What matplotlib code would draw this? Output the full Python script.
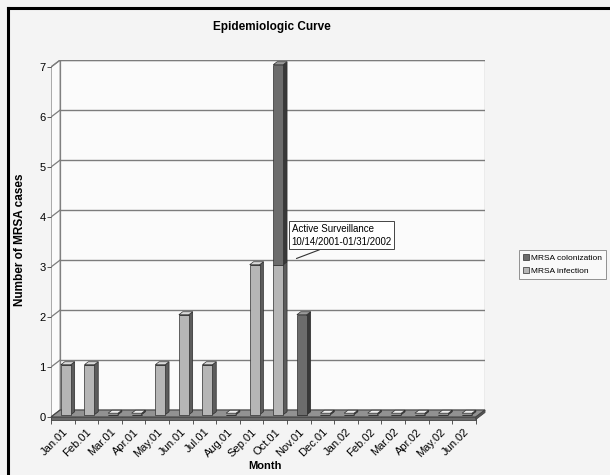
import numpy as np
import matplotlib
matplotlib.use('Agg')
import matplotlib.pyplot as plt
from matplotlib.patches import Polygon, Patch
from matplotlib.lines import Line2D

plt.rcParams['font.family'] = ['Liberation Sans Narrow', 'Liberation Sans', 'DejaVu Sans']

# data
months = ['Jan.01', 'Feb.01', 'Mar.01', 'Apr.01', 'May.01', 'Jun.01', 'Jul.01',
          'Aug.01', 'Sep.01', 'Oct.01', 'Nov.01', 'Dec.01', 'Jan.02', 'Feb.02',
          'Mar.02', 'Apr.02', 'May.02', 'Jun.02']
infection = [1, 1, 0, 0, 1, 2, 1, 0, 3, 3, 0, 0, 0, 0, 0, 0, 0, 0]
colonization = [0, 0, 0, 0, 0, 0, 0, 0, 0, 4, 2, 0, 0, 0, 0, 0, 0, 0]
yticks = [0, 1, 2, 3, 4, 5, 6, 7]

n = len(months)
infection = np.array(infection, dtype=float)
colonization = np.array(colonization, dtype=float)

# fake 3d depth (data units)
DX, DY = 0.39, 0.14
bw = 0.42          # bar front width
fd = 0.33          # depth of bar front face
bd = 0.42          # depth of bar itself
fx, fy = fd * DX, fd * DY
bdx, bdy = bd * DX, bd * DY

INF_C = ('#b6b6b6', '#5c5c5c', '#dadada')
COL_C = ('#6c6c6c', '#383838', '#9a9a9a')
EDGE = '#2e2e2e'
GRID = '#7c7c7c'

fig = plt.figure(figsize=(6.1, 4.75), dpi=100, facecolor='#f4f4f4')
# pixel layout: front origin at (51, 417), 23.6 px per month, 50 px per case
pxx, pxy = 23.6, 50.0
xmax, ymax = n + DX, 7 + DY
ax = fig.add_axes([51 / 610, (475 - 417) / 475, xmax * pxx / 610, ymax * pxy / 475])
ax.set_xlim(0, xmax)
ax.set_ylim(0, ymax)
ax.set_facecolor('none')
for s in ax.spines.values():
    s.set_visible(False)

# walls
ax.add_patch(Polygon([(DX, DY), (n + DX, DY), (n + DX, 7 + DY), (DX, 7 + DY)],
                     closed=True, fc='#fbfbfb', ec=GRID, lw=0.9, zorder=0))
ax.add_patch(Polygon([(0, 0), (DX, DY), (DX, 7 + DY), (0, 7)],
                     closed=True, fc='#fbfbfb', ec=GRID, lw=0.9, zorder=0))
for v in yticks:
    ax.plot([0, DX], [v, v + DY], color=GRID, lw=0.9, zorder=1)
    ax.plot([DX, n + DX], [v + DY, v + DY], color=GRID, lw=1.0, zorder=1)

# floor slab
ax.add_patch(Polygon([(0, 0), (n, 0), (n + DX, DY), (DX, DY)],
                     closed=True, fc='#929292', ec='#444444', lw=0.8, zorder=2, clip_on=False))
ax.add_patch(Polygon([(0, -0.05), (n, -0.05), (n, 0), (0, 0)],
                     closed=True, fc='#6a6a6a', ec='#444444', lw=0.6, zorder=2, clip_on=False))
ax.add_patch(Polygon([(n, -0.05), (n + DX, DY - 0.05), (n + DX, DY), (n, 0)],
                     closed=True, fc='#555555', ec='#444444', lw=0.6, zorder=2, clip_on=False))

xc = np.arange(n) + 0.5
x0 = xc - bw / 2 + fx


def box(xl, b, h, cols, top=True):
    x1 = xl + bw
    ax.add_patch(Polygon([(x1, b), (x1, h), (x1 + bdx, h + bdy), (x1 + bdx, b + bdy)],
                         closed=True, fc=cols[1], ec=EDGE, lw=0.5, zorder=3, clip_on=False))
    if top:
        ax.add_patch(Polygon([(xl, h), (x1, h), (x1 + bdx, h + bdy), (xl + bdx, h + bdy)],
                             closed=True, fc=cols[2], ec=EDGE, lw=0.5, zorder=3, clip_on=False))


# front faces through the bar api
ax.bar(xc + fx, infection, bw, bottom=fy, color=INF_C[0], edgecolor=EDGE, lw=0.5, zorder=4)
ax.bar(xc + fx, colonization, bw, bottom=fy + infection, color=COL_C[0],
       edgecolor=EDGE, lw=0.5, zorder=4)

for i in range(n):
    tot = infection[i] + colonization[i]
    if tot == 0:
        box(x0[i], fy, fy + 0.03, ('#bdbdbd', '#444444', '#eeeeee'))
        continue
    if infection[i] > 0:
        box(x0[i], fy, fy + infection[i], INF_C, top=colonization[i] == 0)
    if colonization[i] > 0:
        box(x0[i], fy + infection[i], fy + tot, COL_C)

# ticks
ax.set_yticks(yticks)
ax.set_yticklabels([str(v) for v in yticks], fontsize=8)
ax.tick_params(axis='y', length=3, width=0.7, color='#555555', pad=1)
ax.set_xticks(xc)
ax.set_xticklabels(months, rotation=45, ha='right', rotation_mode='anchor', fontsize=8)
ax.set_xticks(np.arange(n + 1), minor=True)
ax.tick_params(axis='x', which='major', length=0, pad=7)
ax.tick_params(axis='x', which='minor', length=5, width=0.7, color='#555555')

# annotation callout
ax.annotate('Active Surveillance\n10/14/2001-01/31/2002',
            xy=(10.40, 3.17), xytext=(10.2, 3.40), fontsize=7,
            ha='left', va='bottom', linespacing=1.4,
            bbox=dict(boxstyle='square,pad=0.25', fc='white', ec='#444444', lw=0.7),
            arrowprops=dict(arrowstyle='-', color='#333333', lw=0.8, shrinkA=0, shrinkB=0,
                            relpos=(0.35, 0)),
            zorder=6)

fig.text(272 / 610, 1 - 27 / 475, 'Epidemiologic Curve', ha='center', va='center',
         fontsize=8.5, fontweight='bold')
fig.text(20 / 610, 1 - 240 / 475, 'Number of MRSA cases', ha='center', va='center',
         rotation=90, fontsize=8.5, fontweight='bold')
fig.text(265 / 610, 1 - 466 / 475, 'Month', ha='center', va='center',
         fontsize=8, fontweight='bold')

handles = [Patch(fc=COL_C[0], ec=EDGE, lw=0.5, label='MRSA colonization'),
           Patch(fc=INF_C[0], ec=EDGE, lw=0.5, label='MRSA infection')]
leg = fig.legend(handles=handles, loc='upper left', bbox_to_anchor=(519 / 610, 1 - 250 / 475),
                 fontsize=6, frameon=True, fancybox=False, edgecolor='#777777',
                 handlelength=0.7, handleheight=0.7, handletextpad=0.2,
                 borderpad=0.5, labelspacing=0.6, borderaxespad=0)
leg.get_frame().set_linewidth(0.7)
leg.get_frame().set_facecolor('#fbfbfb')

# frame border
fig.add_artist(Line2D([8 / 610, 8 / 610], [0, 1 - 8 / 475], transform=fig.transFigure,
                      color='black', lw=2.2))
fig.add_artist(Line2D([8 / 610, 1], [1 - 8 / 475, 1 - 8 / 475], transform=fig.transFigure,
                      color='black', lw=2.2))

fig.savefig('out.png', dpi=100, facecolor=fig.get_facecolor())
